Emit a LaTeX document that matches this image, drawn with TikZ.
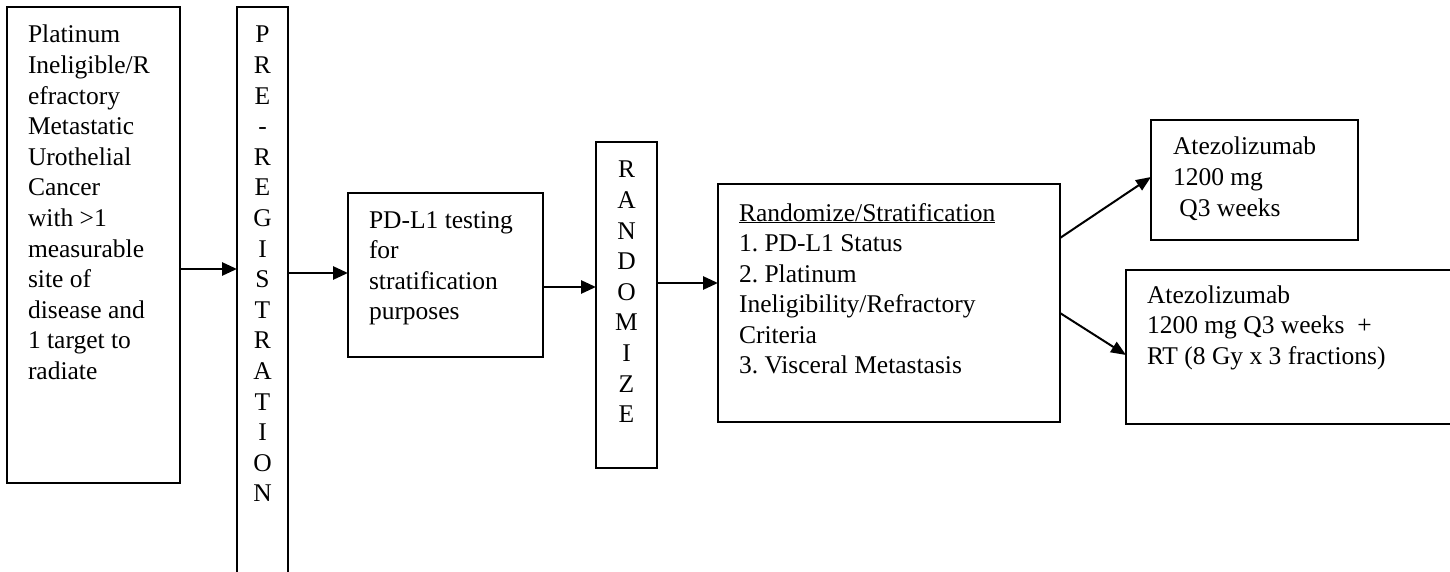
\documentclass[tikz,border=0pt]{standalone}
\usepackage{fontspec}
\setmainfont{Liberation Serif}
\usetikzlibrary{arrows.meta}
\frenchspacing
\newcommand\txtlines[1]{\parbox[t]{400pt}{\fontsize{25.5pt}{30.6pt}\selectfont\raggedright\frenchspacing #1}}
\newcommand\vletters[1]{\parbox[t]{40pt}{\fontsize{25.5pt}{30.6pt}\selectfont\centering #1}}
\begin{document}
\begin{tikzpicture}[x=1pt,y=-1pt,
  box/.style={draw,line width=1.8pt,inner sep=0pt,outer sep=0pt},
  txt/.style={inner sep=0pt,outer sep=0pt,anchor=base west},
  vtxt/.style={inner sep=0pt,outer sep=0pt,anchor=base},
  harr/.style={line width=2.7pt,-{Triangle[length=15pt,width=13pt]}},
  darr/.style={line width=2pt,-{Triangle[length=15pt,width=12pt]}}]
\useasboundingbox (0,0) rectangle (1450,572);
\clip (0,0) rectangle (1450,572);
% boxes
\node[box,minimum width=173pt,minimum height=476pt] (box1) at (93.5,245) {};
\node[box,minimum width=51pt,minimum height=600pt] (prereg) at (262.5,307) {};
\node[box,minimum width=195pt,minimum height=164pt] (box2) at (445.5,275) {};
\node[box,minimum width=61pt,minimum height=326pt] (rand) at (626.5,305) {};
\node[box,minimum width=342pt,minimum height=238pt] (strat) at (889,303) {};
\node[box,minimum width=207pt,minimum height=120pt] (boxA) at (1254.5,180) {};
\node[box,minimum width=344pt,minimum height=154pt] (boxB) at (1298,347) {};
% texts
\node[txt] (t1) at (28,43) {\txtlines{Platinum\\Ineligible/R\\efractory\\Metastatic\\Urothelial\\Cancer\\with >1\\measurable\\site of\\disease and\\1 target to\\radiate}};
\node[vtxt] (t2) at (262.5,43) {\vletters{P\\R\\E\\-\\R\\E\\G\\I\\S\\T\\R\\A\\T\\I\\O\\N}};
\node[txt] (t3) at (369,228) {\txtlines{PD-L1 testing\\for\\stratification\\purposes}};
\node[vtxt] (t4) at (626.5,178) {\vletters{R\\A\\N\\D\\O\\M\\I\\Z\\E}};
\node[txt] (t5) at (739,221) {\txtlines{\underline{Randomize/Stratification}\\1. PD-L1 Status\\2. Platinum\\Ineligibility/Refractory\\Criteria\\3. Visceral Metastasis}};
\node[txt] (t6) at (1173,155) {\txtlines{Atezolizumab\\1200 mg\\~Q3 weeks}};
\node[txt] (t7) at (1147,303) {\txtlines{Atezolizumab\\1200 mg Q3 weeks\ \ +\\RT (8 Gy x 3 fractions)}};
% connector heights
\coordinate (h1) at (0,269);
\coordinate (h2) at (0,273);
\coordinate (h3) at (0,287);
\coordinate (h4) at (0,283);
\coordinate (d1) at (0,238);
\coordinate (d2) at (0,177);
\coordinate (d3) at (0,313);
\coordinate (d4) at (0,355);
\draw[harr] (box1.east |- h1) -- (prereg.west |- h1);
\draw[harr] (prereg.east |- h2) -- (box2.west |- h2);
\draw[harr] (box2.east |- h3) -- (rand.west |- h3);
\draw[harr] (rand.east |- h4) -- (strat.west |- h4);
\draw[darr] (strat.east |- d1) -- (boxA.west |- d2);
\draw[darr] (strat.east |- d3) -- (boxB.west |- d4);
\end{tikzpicture}
\end{document}
